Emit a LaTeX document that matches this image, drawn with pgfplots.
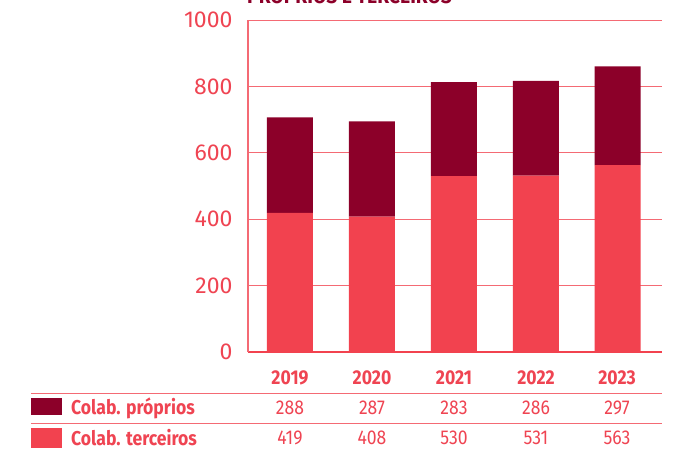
\documentclass[border=0pt]{standalone}
\usepackage{pgfplots}
\pgfplotsset{compat=1.18}
\usepackage{fontspec}
\setmainfont{Fira Sans}
\usepackage{graphicx}
\definecolor{darkred}{HTML}{8C0029}
\definecolor{lightred}{HTML}{F2424F}
\definecolor{txtred}{HTML}{EF4452}
\definecolor{gridred}{HTML}{F46A74}
\newcommand{\cond}[1]{\scalebox{0.88}[1]{#1}}
\begin{document}
\begin{tikzpicture}[x=1pt,y=1pt]
\begin{axis}[
  at={(248pt,-352pt)}, anchor=south west,
  width=414pt, height=332pt, scale only axis,
  ybar stacked, bar width=46pt,
  xmin=-0.51, xmax=4.54, ymin=0, ymax=1000,
  ytick={0,200,400,600,800,1000}, xtick=\empty,
  axis x line=bottom, axis y line=left,
  axis line style={-},
  x axis line style={draw=lightred, line width=1.6pt},
  y axis line style={draw=gridred, line width=1.3pt},
  major tick length=0pt,
  ymajorgrids, grid style={draw=gridred, line width=0.9pt},
  /pgf/number format/assume math mode=true,
  /pgf/number format/1000 sep={},
  yticklabel style={font=\fontsize{23}{23}\selectfont, text=txtred, xshift=-12pt},
  clip=false,
]
\addplot[fill=lightred, draw=none] coordinates {(0,419) (1,408) (2,530) (3,531) (4,563)};
\addplot[fill=darkred, draw=none] coordinates {(0,288) (1,287) (2,283) (3,286) (4,297)};
\end{axis}
% title (cut at top)
\node[anchor=base west, text=darkred, font=\fontsize{21}{21}\selectfont\bfseries, inner sep=0pt] at (247,-3) {\scalebox{0.92}[1]{PRÓPRIOS E TERCEIROS}};
% table
\foreach \x/\y in {290/2019, 372/2020, 454/2021, 536/2022, 617/2023} {
  \node[text=txtred, font=\fontsize{20}{20}\selectfont\bfseries, inner sep=0pt] at (\x,-378) {\cond{\y}};
}
\draw[draw=gridred, line width=1pt] (31,-393) -- (662,-393);
\draw[draw=gridred, line width=1pt] (31,-423) -- (662,-423);
\fill[darkred] (31,-398) rectangle (62,-415);
\fill[lightred] (31,-428) rectangle (62,-448);
\node[anchor=west, text=txtred, font=\fontsize{20}{20}\selectfont\bfseries, inner sep=0pt] at (71,-408) {\cond{Colab. próprios}};
\node[anchor=west, text=txtred, font=\fontsize{20}{20}\selectfont\bfseries, inner sep=0pt] at (71,-438) {\cond{Colab. terceiros}};
\foreach \x/\v in {290/288, 372/287, 454/283, 536/286, 617/297} {
  \node[text=txtred, font=\fontsize{20}{20}\selectfont, inner sep=0pt] at (\x,-408) {\cond{\v}};
}
\foreach \x/\v in {290/419, 372/408, 454/530, 536/531, 617/563} {
  \node[text=txtred, font=\fontsize{20}{20}\selectfont, inner sep=0pt] at (\x,-438) {\cond{\v}};
}
\pgfresetboundingbox
\useasboundingbox (0,0) rectangle (680,-448);
\end{tikzpicture}
\end{document}
